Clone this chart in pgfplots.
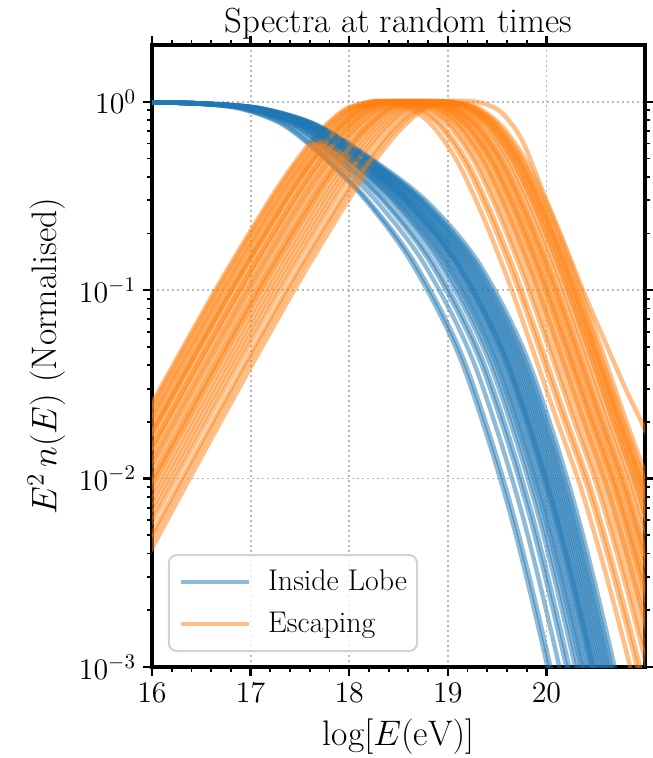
\documentclass[border=0pt]{standalone}
\usepackage{fix-cm}
\usepackage{fontspec}
\setmainfont{Latin Modern Roman}
\usepackage{pgfplots}
\usepackage{pgfplotstable}
\pgfplotsset{compat=1.18}
\definecolor{tabblue}{RGB}{31,119,180}
\definecolor{taborange}{RGB}{255,127,14}

\pgfplotstableread{
y b1 b2 b3 b4 b5 b6 b7 b8 b9 b10 b11 b12 b13 b14 b15 b16 b17 b18 b19 b20 b21 b22 b23 b24 b25
1.0 15.5 15.5 15.5 15.5 15.5 15.5 15.5 15.5 15.5 15.5 15.5 15.5 15.5 15.5 15.5 15.5 15.5 15.5 15.5 15.5 15.5 15.5 15.5 15.5 15.5
0.993 16 16 16 16 16 16 16 16 16 16 16 16 16 16 16 16 16 16 16 16 16 16 16 16 16
0.977 16.44 16.44 16.46 16.47 16.48 16.49 16.49 16.50 16.50 16.51 16.52 16.52 16.52 16.53 16.53 16.54 16.54 16.55 16.55 16.50 16.51 16.53 16.54 16.55 16.52
0.923 16.88 16.89 16.92 16.94 16.95 16.97 16.98 17.00 17.01 17.02 17.03 17.04 17.04 17.06 17.07 17.08 17.09 17.10 17.11 16.99 17.02 17.05 17.07 17.09 17.03
0.759 17.32 17.34 17.38 17.42 17.43 17.46 17.48 17.50 17.51 17.53 17.55 17.56 17.57 17.59 17.60 17.62 17.63 17.65 17.66 17.49 17.54 17.58 17.61 17.64 17.55
0.501 17.75 17.77 17.83 17.88 17.90 17.94 17.97 18.00 18.01 18.04 18.06 18.08 18.09 18.12 18.13 18.16 18.18 18.20 18.22 17.99 18.05 18.11 18.15 18.19 18.07
0.295 18.18 18.20 18.28 18.35 18.37 18.43 18.46 18.50 18.52 18.55 18.58 18.60 18.62 18.65 18.67 18.71 18.73 18.76 18.79 18.48 18.56 18.64 18.69 18.74 18.59
0.138 18.64 18.67 18.76 18.83 18.86 18.92 18.95 19.00 19.02 19.05 19.09 19.11 19.13 19.17 19.19 19.23 19.25 19.29 19.32 18.98 19.07 19.15 19.21 19.27 19.10
0.0417 19.14 19.17 19.26 19.33 19.36 19.42 19.45 19.50 19.52 19.55 19.59 19.61 19.63 19.67 19.69 19.73 19.75 19.79 19.82 19.48 19.57 19.65 19.71 19.77 19.60
0.00631 19.64 19.67 19.76 19.83 19.86 19.92 19.95 20.00 20.02 20.05 20.09 20.11 20.13 20.17 20.19 20.23 20.25 20.29 20.32 19.98 20.07 20.15 20.21 20.27 20.10
0.000501 20.14 20.17 20.26 20.33 20.36 20.42 20.45 20.50 20.52 20.55 20.59 20.61 20.63 20.67 20.69 20.73 20.75 20.79 20.82 20.48 20.57 20.65 20.71 20.77 20.60
0.0000251 20.64 20.67 20.76 20.83 20.86 20.92 20.95 21.00 21.02 21.05 21.09 21.11 21.13 21.17 21.19 21.23 21.25 21.29 21.32 20.98 21.07 21.15 21.21 21.27 21.10
}\bluetab

\pgfplotstableread{
y o1 o2 o3 o4 o5 o6 o7 o8 o9 o10 o11 o12 o13 o14 o15 o16 o17 o18 o19 o20 o21 o22 o23 o24 o25
0.001387 14.70 14.72 14.75 14.78 14.84 14.87 14.90 14.94 15.02 15.04 15.12 15.16 15.24 15.28 15.36 15.42 15.50 14.98 14.80 15.08 15.20 14.95 15.32 14.86 15.14
0.004266 15.20 15.22 15.25 15.28 15.34 15.37 15.40 15.44 15.52 15.54 15.62 15.66 15.74 15.78 15.86 15.92 16.00 15.48 15.30 15.58 15.70 15.45 15.82 15.36 15.64
0.0130 15.70 15.72 15.75 15.78 15.84 15.87 15.90 15.94 16.02 16.04 16.12 16.16 16.24 16.28 16.36 16.42 16.50 15.98 15.80 16.08 16.20 15.95 16.32 15.86 16.14
0.0389 16.20 16.22 16.25 16.28 16.34 16.37 16.40 16.44 16.52 16.54 16.62 16.66 16.74 16.78 16.86 16.92 17.00 16.48 16.30 16.58 16.70 16.45 16.82 16.36 16.64
0.1130 16.70 16.72 16.75 16.78 16.84 16.87 16.90 16.94 17.02 17.04 17.12 17.16 17.24 17.28 17.36 17.42 17.50 16.98 16.80 17.08 17.20 16.95 17.32 16.86 17.14
0.3055 17.20 17.22 17.25 17.28 17.34 17.37 17.40 17.44 17.52 17.54 17.62 17.66 17.74 17.78 17.86 17.92 18.00 17.48 17.30 17.58 17.70 17.45 17.82 17.36 17.64
0.4764 17.45 17.47 17.50 17.53 17.59 17.62 17.65 17.69 17.77 17.79 17.87 17.91 17.99 18.03 18.11 18.17 18.25 17.73 17.55 17.83 17.95 17.70 18.07 17.61 17.89
0.695 17.70 17.72 17.75 17.78 17.84 17.87 17.90 17.94 18.02 18.04 18.12 18.16 18.24 18.28 18.36 18.42 18.50 17.98 17.80 18.08 18.20 17.95 18.32 17.86 18.14
0.906 17.95 17.97 18.00 18.03 18.09 18.12 18.15 18.19 18.27 18.29 18.37 18.41 18.49 18.53 18.61 18.67 18.75 18.23 18.05 18.33 18.45 18.20 18.57 18.11 18.39
1.0 18.20 18.22 18.25 18.28 18.34 18.37 18.40 18.44 18.52 18.54 18.62 18.66 18.74 18.78 18.86 18.92 19.00 18.48 18.30 18.58 18.70 18.45 18.82 18.36 18.64
1.0 18.35 18.42 18.55 18.45 18.60 18.52 18.70 18.62 18.75 18.69 18.85 18.81 18.92 18.95 18.98 19.02 19.05 18.80 18.65 18.88 18.97 18.72 19.00 18.78 18.92
0.933 18.60 18.67 18.80 18.70 18.85 18.77 18.95 18.87 19.00 18.94 19.10 19.06 19.17 19.20 19.23 19.27 19.30 19.05 18.90 19.13 19.22 18.97 19.25 19.03 19.17
0.741 18.85 18.92 19.05 18.95 19.10 19.02 19.20 19.12 19.25 19.19 19.35 19.31 19.42 19.45 19.48 19.52 19.55 19.30 19.15 19.38 19.47 19.22 19.50 19.28 19.42
0.4786 19.10 19.17 19.30 19.20 19.35 19.27 19.45 19.37 19.50 19.44 19.60 19.56 19.67 19.70 19.73 19.77 19.80 19.55 19.40 19.63 19.72 19.47 19.75 19.53 19.67
0.2512 19.35 19.42 19.55 19.45 19.60 19.52 19.70 19.62 19.75 19.69 19.85 19.81 19.92 19.95 19.98 20.02 20.05 19.80 19.65 19.88 19.97 19.72 20.00 19.78 19.92
0.1175 19.60 19.67 19.80 19.70 19.85 19.77 19.95 19.87 20.00 19.94 20.10 20.06 20.17 20.20 20.23 20.27 20.30 20.05 19.90 20.13 20.22 19.97 20.25 20.03 20.17
0.0501 19.85 19.92 20.05 19.95 20.10 20.02 20.20 20.12 20.25 20.19 20.35 20.31 20.42 20.45 20.48 20.52 20.55 20.30 20.15 20.38 20.47 20.22 20.50 20.28 20.42
0.02089 20.10 20.17 20.30 20.20 20.35 20.27 20.45 20.37 20.50 20.44 20.60 20.56 20.67 20.70 20.73 20.77 20.80 20.55 20.40 20.63 20.72 20.47 20.75 20.53 20.67
0.00891 20.35 20.42 20.55 20.45 20.60 20.52 20.70 20.62 20.75 20.69 20.85 20.81 20.92 20.95 20.98 21.02 21.05 20.80 20.65 20.88 20.97 20.72 21.00 20.78 20.92
0.00316 20.60 20.67 20.80 20.70 20.85 20.77 20.95 20.87 21.00 20.94 21.10 21.06 21.17 21.20 21.23 21.27 21.30 21.05 20.90 21.13 21.22 20.97 21.25 21.03 21.17
0.001 20.85 20.92 21.05 20.95 21.10 21.02 21.20 21.12 21.25 21.19 21.35 21.31 21.42 21.45 21.48 21.52 21.55 21.30 21.15 21.38 21.47 21.22 21.50 21.28 21.42
0.000282 21.10 21.17 21.30 21.20 21.35 21.27 21.45 21.37 21.50 21.44 21.60 21.56 21.67 21.70 21.73 21.77 21.80 21.55 21.40 21.63 21.72 21.47 21.75 21.53 21.67
}\orangetab

\begin{document}
\begin{tikzpicture}
\begin{axis}[
  scale only axis,
  width=246.5bp, height=311bp,
  xmin=16, xmax=21, ymin=1e-3, ymax=2,
  ymode=log,
  xtick={16,17,18,19,20},
  minor x tick num=4,
  ytick={1e-3,1e-2,1e-1,1},
  xtick pos=both, ytick pos=both,
  tick align=outside,
  axis line style={line width=2bp},
  major tick length=4.5bp,
  minor tick length=2.5bp,
  every major tick/.append style={line width=1.2bp, black},
  every minor tick/.append style={line width=0.9bp, black},
  grid=major,
  major grid style={line width=0.9bp, gray!55, dash pattern=on 0.9bp off 1.6bp},
  ticklabel style={font=\fontsize{15}{18}\selectfont},
  label style={font=\fontsize{17.8}{21}\selectfont},
  xlabel style={at={(axis description cs:0.5,0)}, anchor=base, yshift=-39bp},
  title style={font=\fontsize{17.5}{21}\selectfont, anchor=base, yshift=0.5bp},
  title={Spectra at random times},
  xlabel={$\log[E(\mathrm{eV})]$},
  ylabel={$E^2\,n(E)$ (Normalised)},
  legend cell align=left,
  legend image code/.code={\draw[#1] (0bp,0bp) -- (34bp,0bp);},
  legend style={at={(0.032,0.024)}, anchor=south west,
    draw=gray!35, line width=1bp, rounded corners=4bp,
    fill=white, fill opacity=0.8, text opacity=1,
    font=\fontsize{15}{18}\selectfont,
    inner xsep=5bp, inner ysep=5bp, row sep=4bp, column sep=8.5bp,
    nodes={text height=12.5bp, text depth=4.5bp, inner sep=0bp}},
]
\pgfplotsinvokeforeach{1,...,25}{
  \addplot[tabblue, draw opacity=0.5, line width=2.2bp, smooth, forget plot] table[x=b#1, y=y]{\bluetab};
  \addplot[taborange, draw opacity=0.5, line width=2.2bp, smooth, forget plot] table[x=o#1, y=y]{\orangetab};
}
\addplot[taborange, draw opacity=0.5, line width=2.2bp, smooth, forget plot] coordinates {
  (15.45,0.001387) (15.95,0.004266) (16.45,0.0130) (16.95,0.0389) (17.45,0.1130)
  (17.95,0.3055) (18.20,0.4764) (18.45,0.695) (18.70,0.906) (18.95,1.0)
  (19.28,1.0) (19.53,0.89) (19.75,0.63) (19.96,0.339) (20.18,0.178)
  (20.37,0.1) (20.6,0.0525) (20.8,0.0302) (21.0,0.0182) (21.2,0.0105)
};
\addlegendimage{tabblue, draw opacity=0.5, line width=2.2bp}
\addlegendentry{Inside Lobe}
\addlegendimage{taborange, draw opacity=0.5, line width=2.2bp}
\addlegendentry{Escaping}
\end{axis}
\pgfresetboundingbox
\path (-76bp,-45.5bp) rectangle (250.5bp,333.5bp);
\end{tikzpicture}
\end{document}
